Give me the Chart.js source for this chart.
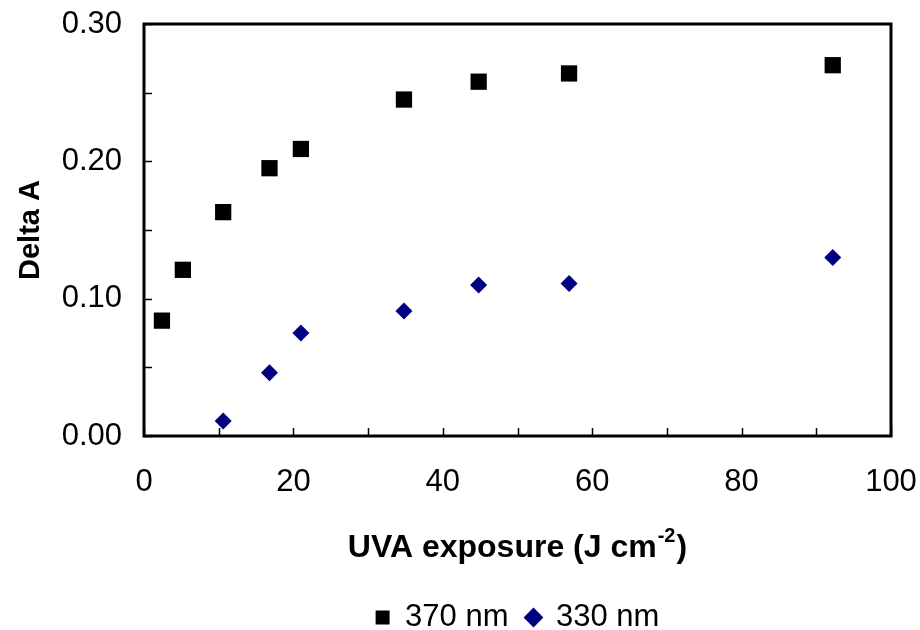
<!DOCTYPE html>
<html>
<head>
<meta charset="utf-8">
<script src="https://cdn.jsdelivr.net/npm/chart.js@4"></script>
<style>
  html, body { margin: 0; padding: 0; background: #fff; }
</style>
</head>
<body>
<canvas id="uvaChart" width="920" height="630"></canvas>
<script>
// values
const x370 = [2.4, 5.2, 10.6, 16.8, 21.0, 34.8, 44.8, 56.9, 92.2];
const y370 = [0.084, 0.121, 0.163, 0.195, 0.209, 0.245, 0.258, 0.264, 0.270];
const x330 = [10.6, 16.8, 21.0, 34.8, 44.8, 56.9, 92.2];
const y330 = [0.011, 0.046, 0.075, 0.091, 0.110, 0.111, 0.130];
const seriesNames = ['370 nm', '330 nm'];
const xTitle = 'UVA exposure (J cm';
const xTitleSup = '-2';
const yTitle = 'Delta A';

const FONT = '"Liberation Sans", Arial, sans-serif';

function toPoints(xs, ys) {
    return xs.map(function(x, i) { return { x: x, y: ys[i] }; });
}

// frame, inside tick marks and the x title with its superscript
const framePlugin = {
    id: 'frame',
    afterDraw: function(chart) {
        const ctx = chart.ctx;
        const a = chart.chartArea;
        const xs = chart.scales.x;
        const ys = chart.scales.y;
        ctx.save();
        ctx.strokeStyle = '#000';
        ctx.lineWidth = 1.5;
        xs.ticks.forEach(function(t) {
            const px = Math.round(xs.getPixelForValue(t.value)) + 0.5;
            ctx.beginPath();
            ctx.moveTo(px, a.bottom);
            ctx.lineTo(px, a.bottom - 8);
            ctx.stroke();
        });
        ys.ticks.forEach(function(t) {
            const py = Math.round(ys.getPixelForValue(t.value)) + 0.5;
            ctx.beginPath();
            ctx.moveTo(a.left, py);
            ctx.lineTo(a.left + 8, py);
            ctx.stroke();
        });
        ctx.lineWidth = 3;
        ctx.strokeRect(a.left, a.top, a.right - a.left, a.bottom - a.top);

        // x axis title
        ctx.fillStyle = '#000';
        ctx.textBaseline = 'middle';
        ctx.font = 'bold 32px ' + FONT;
        const w1 = ctx.measureText(xTitle).width;
        ctx.font = 'bold 20px ' + FONT;
        const w2 = ctx.measureText(xTitleSup).width;
        ctx.font = 'bold 32px ' + FONT;
        const w3 = ctx.measureText(')').width;
        const cx = (a.left + a.right) / 2;
        const ty = 548;
        let px = cx - (w1 + w2 + w3 + 2) / 2;
        ctx.textAlign = 'left';
        ctx.fillText(xTitle, px, ty);
        px += w1;
        ctx.font = 'bold 20px ' + FONT;
        ctx.fillText(xTitleSup, px + 1, ty - 12);
        px += w2 + 2;
        ctx.font = 'bold 32px ' + FONT;
        ctx.fillText(')', px, ty);
        ctx.restore();
    }
};

const ctx = document.getElementById('uvaChart').getContext('2d');

new Chart(ctx, {
    type: 'scatter',
    data: {
        datasets: [
            {
                label: seriesNames[0],
                data: toPoints(x370, y370),
                pointStyle: 'rect',
                pointRadius: 11.5,
                pointHoverRadius: 11.5,
                backgroundColor: '#000000',
                borderColor: '#000000',
                borderWidth: 0
            },
            {
                label: seriesNames[1],
                data: toPoints(x330, y330),
                pointStyle: 'rectRot',
                pointRadius: 8.5,
                pointHoverRadius: 8.5,
                backgroundColor: '#000080',
                borderColor: '#000080',
                borderWidth: 0
            }
        ]
    },
    options: {
        responsive: false,
        animation: false,
        devicePixelRatio: 1,
        layout: {
            padding: { top: 24, right: 29, left: 0, bottom: -13 }
        },
        scales: {
            x: {
                type: 'linear',
                min: 0,
                max: 100,
                grid: { display: false, drawTicks: false },
                border: { display: false },
                ticks: {
                    stepSize: 10,
                    padding: 28,
                    color: '#000',
                    font: { family: FONT, size: 31 },
                    callback: function(v) { return v % 20 === 0 ? String(v) : ''; }
                },
                afterFit: function(s) {
                    s.height = 148;
                    s.paddingLeft = 0;
                    s.paddingRight = 0;
                }
            },
            y: {
                min: 0,
                max: 0.3,
                grid: { display: false, drawTicks: false },
                border: { display: false },
                ticks: {
                    stepSize: 0.05,
                    padding: 22,
                    color: '#000',
                    font: { family: FONT, size: 31 },
                    callback: function(v) {
                        const k = Math.round(v * 100);
                        return k % 10 === 0 ? (k / 100).toFixed(2) : '';
                    }
                },
                title: {
                    display: true,
                    text: yTitle,
                    color: '#000',
                    font: { family: FONT, size: 29, weight: 'bold' },
                    padding: { top: 14, bottom: 0 }
                },
                afterFit: function(s) {
                    s.width = 144;
                    s.paddingTop = 0;
                    s.paddingBottom = 0;
                }
            }
        },
        plugins: {
            legend: {
                position: 'bottom',
                fullSize: false,
                labels: {
                    usePointStyle: true,
                    boxWidth: 14,
                    boxHeight: 14,
                    padding: 18,
                    color: '#000',
                    font: { family: FONT, size: 31 }
                }
            },
            tooltip: { enabled: false }
        }
    },
    plugins: [framePlugin]
});
</script>
</body>
</html>
